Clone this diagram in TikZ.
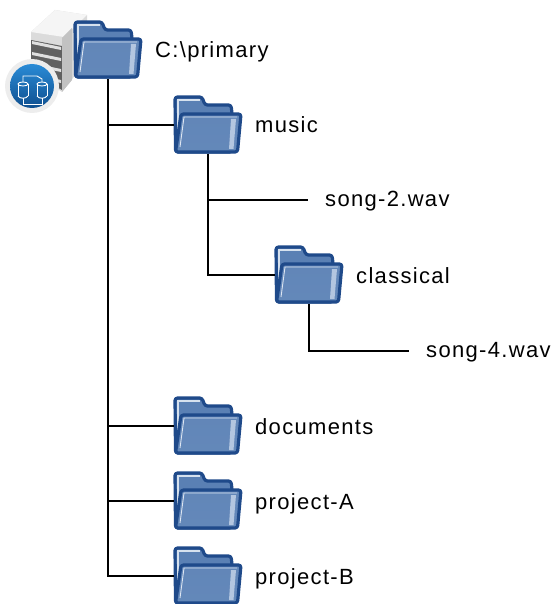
\documentclass[tikz,border=0pt]{standalone}
\usepackage{fontspec}
\setmainfont[LetterSpace=6]{Liberation Sans}
\definecolor{folderedge}{HTML}{1F4A8A}
\definecolor{folderlight}{HTML}{8AA8CF}
\definecolor{foldermid}{HTML}{5A80B4}
\definecolor{discblue}{HTML}{2A8BD6}
\definecolor{discdark}{HTML}{0F4F8F}
\tikzset{
    folderbox/.style={minimum width=68pt, minimum height=58pt, inner sep=0pt},
    dirlabel/.style={anchor=west, inner sep=0pt, text height=18pt, text depth=5pt, font=\fontsize{22}{26}\selectfont},
    filelabel/.style={anchor=west, inner ysep=0pt, inner xsep=17pt, text height=18.5pt, text depth=5pt, font=\fontsize{22}{26}\selectfont},
    branch/.style={draw=black, line width=2.4pt},
    drumline/.style={draw=white, line width=0.9pt},
    foldericon/.pic={
        % Back of the folder with its tab
        \draw[draw=folderedge, line width=3.2pt, line join=round, rounded corners=2.5pt, fill=foldermid]
            (-32.5,27) -- (-33,-28) -- (-6,-28) -- (-3,-20) -- (23,-20) -- (24,-12) -- (24,27) -- cycle;
        \draw[white!65!folderlight, line width=1.2pt] (-30,18) -- (-30,-25) -- (-8,-25);
        % Front flap
        \draw[draw=folderedge, line width=3.2pt, line join=round, rounded corners=2.5pt, top color=foldermid!85!folderlight, bottom color=foldermid!80!folderlight]
            (-27,-11) -- (33,-11) -- (29.5,27) -- (-32.5,27) -- cycle;
        \draw[white!70!folderlight, line width=0.9pt] (-28,22) -- (-24,-8) -- (29,-8);
        \fill[white!35!folderlight] (23,-6) -- (28,-6) -- (25.5,24) -- (21,24) -- cycle;
    },
}
\begin{document}
\begin{tikzpicture}[x=1pt, y=-1pt]
\useasboundingbox (0,0) rectangle (552,604);

% Server tower behind the root folder
\fill[black!14] (31,32) -- (55,10) -- (87,15) -- (87,60) -- (62,92) -- (31,70) -- cycle;
\fill[black!4] (31,32) -- (55,10) -- (87,15) -- (64,37) -- cycle;
\fill[black!62] (31,40) -- (62,46) -- (62,90) -- (31,72) -- cycle;
\foreach \i in {0,1,2,3} {
    \fill[black!12] (32,41+\i*11) -- (61,47+\i*11) -- (61,50+\i*11) -- (32,44+\i*11) -- cycle;
}
\fill[black!24] (62,38) -- (72,28) -- (72,80) -- (62,92) -- cycle;

% Disc with the two linked drums
\fill[black!7] (32,86) circle (27);
\shade[top color=discblue, bottom color=discdark] (32,86) circle (22);
\foreach \x in {23,42} {
    \draw[drumline] (\x-5,84) -- (\x-5,96) (\x+5,84) -- (\x+5,96);
    \draw[drumline] (\x,84) ellipse (5 and 2);
    \draw[drumline] (\x-5,96) .. controls (\x-3,99) and (\x+3,99) .. (\x+5,96);
}
\draw[drumline] (23,82) -- (23,76) -- (37,76) -- (42,79) -- (42,82);
\draw[drumline] (23,98) -- (23,104) -- (42,104) -- (42,98);

% Folders and their names
\foreach \name/\x/\y/\lab in {primary/108/50/{C:\textbackslash primary}, music/208/125/music, classical/309/275/classical, documents/208/426/documents, projectA/208/501/project-A, projectB/208/576/project-B} {
    \pic at (\x,\y) {foldericon};
    \node[folderbox] (\name) at (\x,\y) {};
    \node[dirlabel] (\name label) at (\x+47,\y+1.5) {\lab};
}

% Files
\node[filelabel] (songtwo) at (308,200) {song-2.wav};
\node[filelabel] (songfour) at (409,351) {song-4.wav};

% Branches of the tree
\foreach \name in {music,documents,projectA,projectB} {
    \path[branch] (primary.south) |- (\name.west);
}
\path[branch] (music.south) |- (songtwo.west);
\path[branch] (music.south) |- (classical.west);
\path[branch] (classical.south) |- (songfour.west);

\end{tikzpicture}
\end{document}
